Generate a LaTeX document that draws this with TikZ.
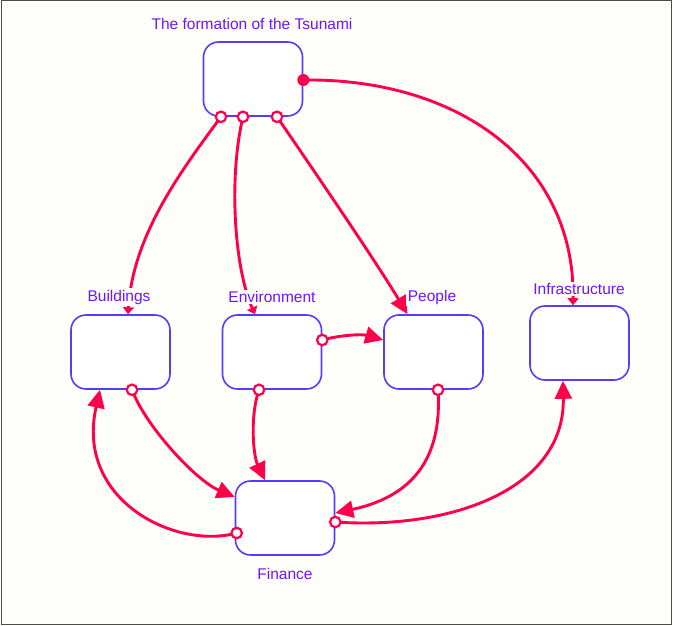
\documentclass[tikz,border=0pt]{standalone}
\usepackage{fontspec}
\setmainfont{Liberation Sans}
\usetikzlibrary{arrows.meta}
\definecolor{txtc}{RGB}{110,20,255}
\definecolor{boxc}{RGB}{85,60,255}
\definecolor{arrc}{RGB}{255,0,75}
\definecolor{bgc}{RGB}{254,254,250}
\tikzset{
  box/.style={draw=boxc, line width=1.6pt, rounded corners=15pt, minimum width=99pt, minimum height=74pt, inner sep=0pt, fill=white},
  lbl/.style={text=txtc, font=\fontsize{15.5}{18}\selectfont, inner sep=1.5pt, fill=bgc},
  conn/.style={draw=arrc, line width=2.9pt},
  big/.style={conn, -{Triangle[length=18pt,width=17pt]}},
  small/.style={conn, -{Triangle[length=7pt,width=11pt]}},
  opencirc/.style={circle, draw=arrc, line width=2.2pt, fill=white, minimum size=10.5pt, inner sep=0pt},
  dotc/.style={circle, fill=arrc, minimum size=12pt, inner sep=0pt}
}
\begin{document}
\begin{tikzpicture}[x=1pt,y=-1pt]
\useasboundingbox (0,0) rectangle (673,626);
\fill[bgc] (0,0) rectangle (673,626);
\draw[gray!60!black, line width=1pt] (1,1) rectangle (671.5,624.5);

\node[box] (top) at (253,79) {};
\node[box] (bld) at (120.5,352) {};
\node[box] (env) at (272,352) {};
\node[box] (ppl) at (433.5,352) {};
\node[box] (inf) at (579.5,343) {};
\node[box] (fin) at (285,518) {};

% start/end points on node borders
\coordinate (t1) at ([xshift=-32pt]top.south);
\coordinate (t2) at ([xshift=-10pt]top.south);
\coordinate (t3) at ([xshift=24pt]top.south);
\coordinate (t4) at ([yshift=-1pt]top.east);
\coordinate (bN) at ([xshift=7.5pt]bld.north);
\coordinate (bS) at ([xshift=11.5pt]bld.south);
\coordinate (bS2) at ([xshift=-20.5pt]bld.south);
\coordinate (eN) at ([xshift=-17pt]env.north);
\coordinate (eS) at ([xshift=-13pt]env.south);
\coordinate (eE) at ([yshift=12pt]env.east);
\coordinate (pN) at ([xshift=-26pt]ppl.north);
\coordinate (pW) at ([yshift=12pt]ppl.west);
\coordinate (pS) at ([xshift=4.5pt]ppl.south);
\coordinate (iN) at ([xshift=-6.5pt]inf.north);
\coordinate (iS) at ([xshift=-16.5pt]inf.south);
\coordinate (fN) at ([xshift=-20pt]fin.north);
\coordinate (fW1) at ([yshift=21pt]fin.west);
\coordinate (fW2) at ([xshift=2pt,yshift=-15pt]fin.west);
\coordinate (fE1) at ([yshift=5pt]fin.east);
\coordinate (fE2) at ([yshift=-4pt]fin.east);

\draw[small] (t1) .. controls (181,171) and (133,235) .. (bN);
\draw[small] (t2) .. controls (228,180) and (235,270) .. (eN);
\draw[big] (t3) .. controls (310,165) and (375,260) .. (pN);
\draw[small] (t4) .. controls (455,78) and (575,160) .. (iN);
\draw[big] (eE) .. controls (340,335) and (362,334) .. (pW);
\draw[big] (bS) .. controls (145,425) and (195,480) .. (fW1);
\draw[big] (eS) .. controls (250,415) and (253,455) .. (fN);
\draw[big] (pS) .. controls (442,450) and (420,495) .. (fE1);
\draw[big] (fW2) .. controls (175,550) and (75,500) .. (bS2);
\draw[big] (fE2) .. controls (450,530) and (565,490) .. (iS);

\node[opencirc] (c1) at (t1) {};
\node[opencirc] (c2) at (t2) {};
\node[opencirc] (c3) at (t3) {};
\node[dotc] (c4) at (t4) {};
\node[opencirc] (c5) at (eE) {};
\node[opencirc] (c6) at (bS) {};
\node[opencirc] (c7) at (eS) {};
\node[opencirc] (c8) at (pS) {};
\node[opencirc] (c9) at (fW2) {};
\node[opencirc] (c10) at (fE2) {};

\node[lbl] (ltop) at (252,24) {The formation of the Tsunami};
\node[lbl] (lbld) at (119,297) {Buildings};
\node[lbl] (lenv) at (272,297) {Environment};
\node[lbl] (lppl) at (432,297) {People};
\node[lbl] (linf) at (579,289) {Infrastructure};
\node[lbl] (lfin) at (285,574) {Finance};
\end{tikzpicture}
\end{document}
